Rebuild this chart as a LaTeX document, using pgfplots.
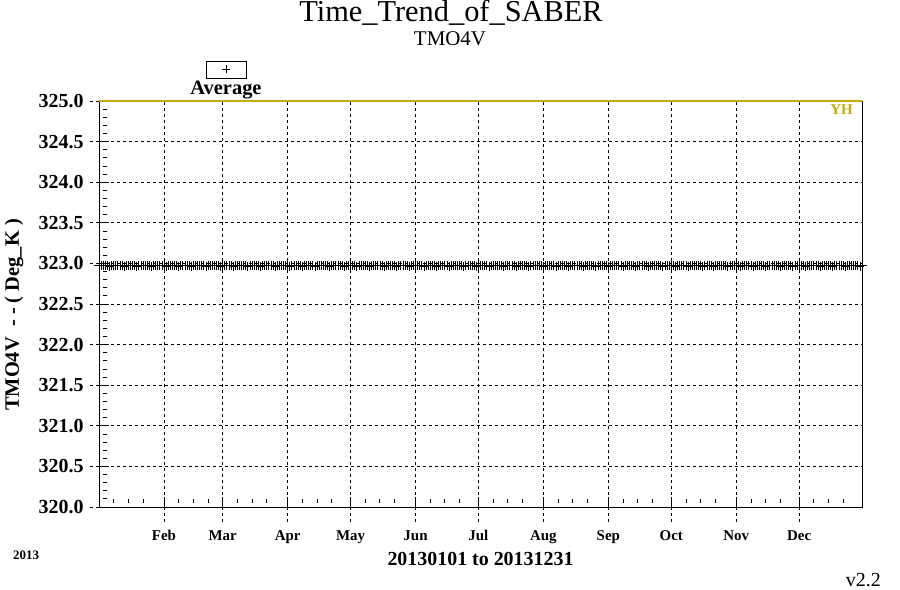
\documentclass[border=0pt]{standalone}
\usepackage{fontspec}
\setmainfont{Liberation Serif}
\usepackage{pgfplots}
\pgfplotsset{compat=1.18}
\definecolor{yh}{RGB}{204,170,0}
\newcommand{\fs}[1]{\fontsize{#1}{#1}\selectfont}
\begin{document}
\begin{tikzpicture}
\path[use as bounding box] (0bp,0bp) rectangle (900bp,590bp);
\begin{axis}[
  at={(99bp,83bp)}, anchor=south west,
  scale only axis, width=763bp, height=406bp,
  xmin=0, xmax=364, ymin=320, ymax=325,
  clip=false,
  xtick pos=bottom, ytick pos=left,
  xtick={31,59,90,120,151,181,212,243,273,304,334},
  xticklabels={Feb,Mar,Apr,May,Jun,Jul,Aug,Sep,Oct,Nov,Dec},
  minor xtick={7,14,21,38,45,52,66,73,80,97,104,111,127,134,141,158,165,172,188,195,202,219,226,233,250,257,264,280,287,294,311,318,325,341,348,355},
  ytick={320,320.5,321,321.5,322,322.5,323,323.5,324,324.5,325},
  minor y tick num=4,
  yticklabel style={font=\bfseries\fs{20}, anchor=east, xshift=-12bp, /pgf/number format/fixed, /pgf/number format/fixed zerofill, /pgf/number format/precision=1, /pgf/number format/assume math mode=true},
  xticklabel style={font=\bfseries\fs{15}, anchor=base, yshift=-33bp},
  grid=major,
  major grid style={black, line width=0.7bp, dash pattern=on 3bp off 3bp},
  tick align=inside,
  major tick length=10bp, minor tick length=8bp,
  tick style={black, line width=0.8bp},
  minor tick style={dash pattern=on 0bp off 4bp on 4bp},
  axis line style={black, line width=1bp},
  xlabel={\bfseries\fs{20}20130101 to 20131231},
  xlabel style={at={(axis description cs:0.5,-0.1429)}, anchor=base},
  ylabel={\bfseries\fs{20.5}TMO4V\ \ -\ -\ (\ Deg\_K\ )},
  ylabel style={at={(axis description cs:-0.1114,0.473)}, anchor=center},
]
\addplot[yh, line width=1.2bp] coordinates {(0,325) (364,325)};
\addplot[only marks, mark=+, mark size=4.5bp, black, mark options={line width=0.75bp}] coordinates {
(0,322.97)(1,322.97)(2,322.98)(3,322.97)(4,322.97)(5,322.96)(6,322.97)(7,322.97)(8,322.98)(9,322.97)
(10,322.97)(11,322.97)(12,322.96)(13,322.97)(14,322.98)(15,322.97)(16,322.97)(17,322.97)(18,322.96)(19,322.97)
(20,322.97)(21,322.98)(22,322.97)(23,322.97)(24,322.97)(25,322.96)(26,322.97)(27,322.98)(28,322.97)(29,322.97)
(30,322.97)(31,322.97)(32,322.96)(33,322.97)(34,322.97)(35,322.98)(36,322.97)(37,322.97)(38,322.96)(39,322.97)
(40,322.97)(41,322.97)(42,322.98)(43,322.97)(44,322.96)(45,322.97)(46,322.97)(47,322.97)(48,322.98)(49,322.97)
(50,322.97)(51,322.96)(52,322.97)(53,322.97)(54,322.98)(55,322.97)(56,322.97)(57,322.97)(58,322.96)(59,322.97)
(60,322.98)(61,322.97)(62,322.97)(63,322.97)(64,322.96)(65,322.97)(66,322.97)(67,322.98)(68,322.97)(69,322.97)
(70,322.97)(71,322.96)(72,322.97)(73,322.97)(74,322.98)(75,322.97)(76,322.97)(77,322.96)(78,322.97)(79,322.97)
(80,322.98)(81,322.97)(82,322.97)(83,322.97)(84,322.96)(85,322.97)(86,322.98)(87,322.97)(88,322.97)(89,322.97)
(90,322.97)(91,322.96)(92,322.97)(93,322.98)(94,322.97)(95,322.97)(96,322.97)(97,322.96)(98,322.97)(99,322.97)
(100,322.98)(101,322.97)(102,322.97)(103,322.96)(104,322.97)(105,322.97)(106,322.98)(107,322.97)(108,322.97)(109,322.97)
(110,322.96)(111,322.97)(112,322.97)(113,322.98)(114,322.97)(115,322.97)(116,322.97)(117,322.96)(118,322.97)(119,322.98)
(120,322.97)(121,322.97)(122,322.97)(123,322.96)(124,322.97)(125,322.97)(126,322.98)(127,322.97)(128,322.97)(129,322.96)
(130,322.97)(131,322.97)(132,322.98)(133,322.97)(134,322.97)(135,322.97)(136,322.96)(137,322.97)(138,322.98)(139,322.97)
(140,322.97)(141,322.97)(142,322.96)(143,322.97)(144,322.97)(145,322.98)(146,322.97)(147,322.97)(148,322.96)(149,322.97)
(150,322.97)(151,322.98)(152,322.97)(153,322.97)(154,322.97)(155,322.96)(156,322.97)(157,322.98)(158,322.97)(159,322.97)
(160,322.97)(161,322.96)(162,322.97)(163,322.97)(164,322.98)(165,322.97)(166,322.97)(167,322.96)(168,322.97)(169,322.97)
(170,322.98)(171,322.97)(172,322.97)(173,322.97)(174,322.96)(175,322.97)(176,322.98)(177,322.97)(178,322.97)(179,322.97)
(180,322.96)(181,322.97)(182,322.97)(183,322.98)(184,322.97)(185,322.97)(186,322.96)(187,322.97)(188,322.97)(189,322.98)
(190,322.97)(191,322.97)(192,322.97)(193,322.96)(194,322.97)(195,322.98)(196,322.97)(197,322.97)(198,322.97)(199,322.96)
(200,322.97)(201,322.97)(202,322.98)(203,322.97)(204,322.97)(205,322.96)(206,322.97)(207,322.97)(208,322.98)(209,322.97)
(210,322.97)(211,322.97)(212,322.96)(213,322.97)(214,322.98)(215,322.97)(216,322.97)(217,322.97)(218,322.96)(219,322.97)
(220,322.97)(221,322.98)(222,322.97)(223,322.97)(224,322.96)(225,322.97)(226,322.97)(227,322.98)(228,322.97)(229,322.97)
(230,322.97)(231,322.96)(232,322.97)(233,322.98)(234,322.97)(235,322.97)(236,322.97)(237,322.96)(238,322.97)(239,322.97)
(240,322.98)(241,322.97)(242,322.97)(243,322.96)(244,322.97)(245,322.97)(246,322.98)(247,322.97)(248,322.97)(249,322.97)
(250,322.96)(251,322.97)(252,322.98)(253,322.97)(254,322.97)(255,322.97)(256,322.96)(257,322.97)(258,322.97)(259,322.98)
(260,322.97)(261,322.97)(262,322.96)(263,322.97)(264,322.97)(265,322.98)(266,322.97)(267,322.97)(268,322.97)(269,322.96)
(270,322.97)(271,322.98)(272,322.97)(273,322.97)(274,322.97)(275,322.96)(276,322.97)(277,322.97)(278,322.98)(279,322.97)
(280,322.97)(281,322.96)(282,322.97)(283,322.97)(284,322.98)(285,322.97)(286,322.97)(287,322.97)(288,322.96)(289,322.97)
(290,322.98)(291,322.97)(292,322.97)(293,322.96)(294,322.97)(295,322.97)(296,322.98)(297,322.97)(298,322.97)(299,322.97)
(300,322.96)(301,322.97)(302,322.97)(303,322.98)(304,322.97)(305,322.97)(306,322.96)(307,322.97)(308,322.98)(309,322.97)
(310,322.97)(311,322.97)(312,322.96)(313,322.97)(314,322.97)(315,322.98)(316,322.97)(317,322.97)(318,322.96)(319,322.97)
(320,322.97)(321,322.98)(322,322.97)(323,322.97)(324,322.97)(325,322.96)(326,322.97)(327,322.98)(328,322.97)(329,322.97)
(330,322.97)(331,322.96)(332,322.97)(333,322.97)(334,322.98)(335,322.97)(336,322.97)(337,322.96)(338,322.97)(339,322.97)
(340,322.98)(341,322.97)(342,322.97)(343,322.97)(344,322.96)(345,322.97)(346,322.98)(347,322.97)(348,322.97)(349,322.97)
(350,322.96)(351,322.97)(352,322.97)(353,322.98)(354,322.97)(355,322.97)(356,322.96)(357,322.97)(358,322.97)(359,322.98)
(360,322.97)(361,322.97)(362,322.97)(363,322.96)(364,322.97)
};
\pgfplotsinvokeforeach{31,59,90,120,151,181,212,243,273,304,334}{
  \draw[black, line width=0.7bp, dash pattern=on 3bp off 3bp] (axis cs:#1,320) -- ++(0bp,-17bp);
}
\pgfplotsinvokeforeach{320,320.5,321,321.5,322,322.5,323,323.5,324,324.5,325}{
  \draw[black, line width=0.7bp, dash pattern=on 3bp off 3bp] (axis cs:0,#1) -- ++(-9bp,0bp);
}
\end{axis}
\node[anchor=base, font=\fs{30.5}] at (451bp,568bp) {Time\_Trend\_of\_SABER};
\node[anchor=base, font=\fs{21}] at (450bp,544bp) {TMO4V};
\node[draw, line width=0.8bp, minimum width=40bp, minimum height=17bp, inner sep=0pt] at (226bp,520.5bp) {};
\draw[line width=0.8bp] (222bp,520.5bp) -- (230bp,520.5bp) (226bp,516.5bp) -- (226bp,524.5bp);
\node[anchor=base, font=\bfseries\fs{20.5}] at (226bp,495bp) {Average};
\node[anchor=base east, font=\bfseries\fs{15}, text=yh, inner sep=0pt] at (853bp,475bp) {YH};
\node[anchor=base west, font=\bfseries\fs{13}, inner sep=0pt] at (13bp,31bp) {2013};
\node[anchor=base east, font=\fs{20}, inner sep=0pt] at (881bp,4bp) {v2.2};
\end{tikzpicture}
\end{document}
